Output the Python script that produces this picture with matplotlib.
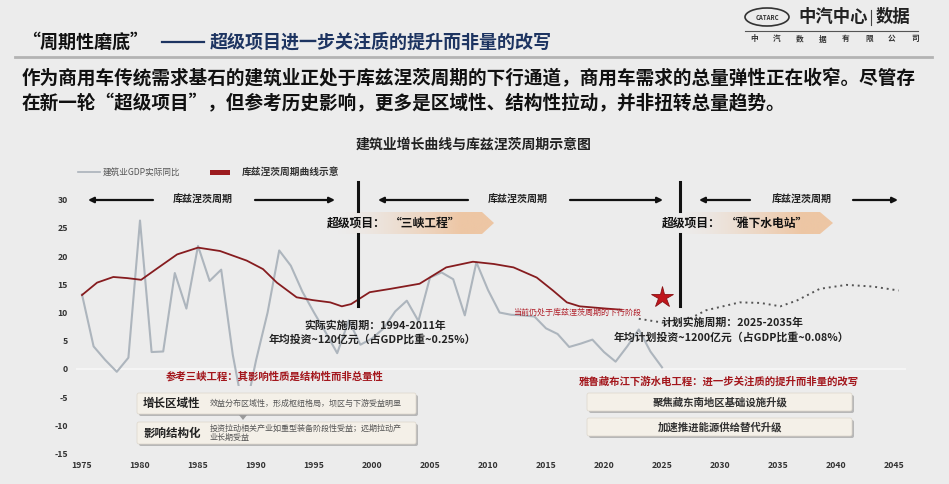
import matplotlib
matplotlib.use('Agg')
import matplotlib.pyplot as plt
import numpy as np
from matplotlib.patches import Polygon, FancyBboxPatch, Rectangle, Ellipse

plt.rcParams['font.family'] = ['Noto Sans CJK SC', 'DejaVu Sans']
plt.rcParams['axes.unicode_minus'] = False

# ---------------- data ----------------
gdp_years = list(range(1975, 2026))
gdp_vals = [13.2, 4.0, 1.6, -0.5, 2.0, 26.3, 3.0, 3.1, 17.0, 10.7,
            21.8, 15.6, 17.6, 2.5, -8.4, 1.5, 10.0, 21.0, 18.3, 13.7,
            10.0, 6.5, 2.8, 8.6, 4.3, 5.4, 7.2, 10.2, 12.1, 8.5,
            16.2, 17.1, 15.9, 9.5, 18.9, 14.0, 10.0, 9.6, 9.5, 9.3,
            7.2, 6.2, 3.9, 4.5, 5.2, 3.0, 1.3, 4.0, 7.0, 3.1, 0.3]

kuz_years = [1975, 1976.3, 1977.7, 1978.9, 1980.1, 1981.4, 1983.2, 1985, 1986.9,
             1989.2, 1990.6, 1991.8, 1993.5, 1994.9, 1996.4, 1997.4, 1998.2,
             1999.8, 2001.6, 2004.1, 2006.4, 2008.7, 2010.5, 2012.2, 2014.2,
             2015.6, 2016.8, 2017.9, 2020.2, 2021.5]
kuz_vals = [13.1, 15.3, 16.3, 16.1, 15.8, 17.7, 20.3, 21.5, 20.9,
            19.2, 17.7, 15.3, 12.7, 12.2, 11.8, 11.1, 11.5,
            13.6, 14.2, 15.1, 18.0, 19.0, 18.6, 18.0, 16.2,
            13.9, 11.8, 11.1, 10.7, 10.5]

fc_years = [2023.0, 2025.4, 2026.8, 2028.8, 2031.7, 2033.5, 2035.2, 2036.6,
            2038.6, 2040.9, 2043.2, 2045.4]
fc_vals = [8.9, 8.1, 8.3, 10.4, 11.8, 11.7, 11.1, 12.1, 14.2, 14.9, 14.6, 13.9]

now_year, now_val = 2025, 12.7

x_ticks = list(range(1975, 2046, 5))
y_ticks = list(range(-15, 31, 5))

BG = '#ececec'
W, H = 949, 484

fig = plt.figure(figsize=(W / 100, H / 100), dpi=100, facecolor=BG)

# main data axes: x 1974.5..2046 -> px 76.2..905.6 ; y -16..31 -> px 459.3..194.0
ax = fig.add_axes([76.2 / W, (H - 459.3) / H, (905.6 - 76.2) / W, (459.3 - 194.0) / H])
ax.set_facecolor(BG)
ax.set_xlim(1974.5, 2046)
ax.set_ylim(-16, 31)
for s in ax.spines.values():
    s.set_visible(False)
ax.set_xticks(x_ticks)
ax.set_yticks(y_ticks)
ax.tick_params(length=0)
ax.tick_params(axis='x', pad=1.5)
ax.tick_params(axis='y', pad=6)
for lab in ax.get_xticklabels() + ax.get_yticklabels():
    lab.set_fontsize(6.3)
    lab.set_fontweight('bold')
    lab.set_color('#333333')

ax.axhline(0, color='#f7f7f7', lw=1.3, zorder=0.5)
ax.plot(gdp_years, gdp_vals, color='#adb5bd', lw=1.5, zorder=2)
ax.plot(kuz_years, kuz_vals, color='#861c1f', lw=1.3, zorder=3)
ax.plot(fc_years, fc_vals, color='#555555', lw=1.4, ls=(0, (1, 2)), zorder=3)
ax.plot([now_year], [now_val], marker='*', ms=16, color='#c0161c', mec='#8a0f12',
        mew=0.6, zorder=6, clip_on=False)

# ---------------- overlay (pixel coords) ----------------
ov = fig.add_axes([0, 0, 1, 1], zorder=5)
ov.set_xlim(0, W)
ov.set_ylim(H, 0)
ov.axis('off')
ov.patch.set_visible(False)

def T(x, y, s, **kw):
    kw.setdefault('va', 'center')
    ov.text(x, y, s, **kw)

# header
T(22, 42, '“周期性磨底”', fontsize=13, weight='bold', color='#111111')
ov.plot([162, 204], [42, 42], color='#1d3461', lw=1.6)
T(210, 42, '超级项目进一步关注质的提升而非量的改写', fontsize=13, weight='bold', color='#1d3461')
ov.plot([15, 932], [57, 57], color='#b3b3b3', lw=2)

# logo
ov.add_patch(Ellipse((767, 17), 44, 18, fc='none', ec='#333333', lw=1.2))
T(767, 17, 'CATARC', ha='center', fontsize=4.3, weight='bold', color='#333333')
T(798, 17, '中汽中心', fontsize=12.5, weight='bold', color='#222222')
ov.plot([871.5, 871.5], [10, 25], color='#444444', lw=0.8)
T(876, 17, '数据', fontsize=12.5, weight='bold', color='#222222')
ov.plot([745, 918], [30.5, 30.5], color='#555555', lw=0.8)
for i, ch in enumerate('中汽数据有限公司'):
    T(754 + i * 23.0, 39, ch, ha='center', fontsize=5.5, weight='bold', color='#333333')

# paragraph
T(22, 79, '作为商用车传统需求基石的建筑业正处于库兹涅茨周期的下行通道，商用车需求的总量弹性正在收窄。尽管存',
  fontsize=13.4, weight='bold', color='#111111')
T(22, 104, '在新一轮“超级项目”，但参考历史影响，更多是区域性、结构性拉动，并非扭转总量趋势。',
  fontsize=13.4, weight='bold', color='#111111')

# chart title
T(474, 145, '建筑业增长曲线与库兹涅茨周期示意图', ha='center', fontsize=10, weight='bold', color='#222222')

# legend
ov.plot([78, 100], [172, 172], color='#aab2ba', lw=1.2)
T(103, 172, '建筑业GDP实际同比', fontsize=6.2, color='#555555')
ov.add_patch(Rectangle((210, 169.5), 20, 5, fc='#9c1b1f', ec='none'))
T(242, 172, '库兹涅茨周期曲线示意', fontsize=7, weight='bold', color='#333333')

# cycle arrows
def arrow(tail, head, y=200):
    ov.annotate('', xy=(head, y), xytext=(tail, y),
                arrowprops=dict(arrowstyle='-|>', color='#111111', lw=1.6,
                                mutation_scale=8, shrinkA=0, shrinkB=0))

for tail, head in [(153, 88), (255, 335), (468, 378), (570, 663), (750, 699), (853, 898)]:
    arrow(tail, head)
for cx in (203, 518, 802):
    T(cx, 200, '库兹涅茨周期', ha='center', fontsize=7.2, weight='bold', color='#222222')

# gradient bands
def band(x0, xr, xt, y0, y1, color):
    rgb = matplotlib.colors.to_rgb(color)
    n = 200
    grad = np.zeros((1, n, 4))
    grad[..., 0], grad[..., 1], grad[..., 2] = rgb
    a = np.linspace(0, 1, n)
    grad[..., 3] = np.clip(a * 1.25, 0, 1) ** 1.4 * 0.95
    im = ov.imshow(grad, extent=(x0, xt, y1, y0), aspect='auto', zorder=2,
                   interpolation='bilinear')
    poly = Polygon([(x0, y0), (xr, y0), (xt, (y0 + y1) / 2), (xr, y1), (x0, y1)],
                   closed=True, fc='none', ec='none')
    ov.add_patch(poly)
    im.set_clip_path(poly)

band(335, 482, 494, 212, 234, '#eec4a0')
band(676, 820, 833, 212, 234, '#eec4a0')
ov.set_xlim(0, W)
ov.set_ylim(H, 0)

T(327, 223, '超级项目：', fontsize=8.5, weight='bold', color='#111111', zorder=4)
T(390, 223, '“三峡工程”', fontsize=8.5, weight='bold', color='#111111', zorder=4)
T(662, 223, '超级项目：', fontsize=8.5, weight='bold', color='#111111', zorder=4)
T(726, 223, '“雅下水电站”', fontsize=8.5, weight='bold', color='#111111', zorder=4)

# vertical project markers
for xv in (358.5, 680):
    ov.plot([xv, xv], [182, 211], color='#111111', lw=2.2)
    ov.plot([xv, xv], [234, 306], color='#111111', lw=2.2)

# period annotations
T(375, 326, '实际实施周期：1994-2011年', ha='center', fontsize=7.8, weight='bold', color='#222222')
T(372, 339, '年均投资~120亿元（占GDP比重~0.25%）', ha='center', fontsize=7.8, weight='bold', color='#222222')
T(733, 323, '计划实施周期：2025-2035年', ha='center', fontsize=7.8, weight='bold', color='#222222')
T(731, 337, '年均计划投资~1200亿元（占GDP比重~0.08%）', ha='center', fontsize=7.8, weight='bold', color='#222222')
T(513, 312, '当前仍处于库兹涅茨周期的下行阶段', fontsize=5.8, color='#b0202a')

# left group
ov.add_patch(Rectangle((133, 386), 292, 62, fc=BG, ec='none', zorder=1))
T(275, 376, '参考三峡工程：其影响性质是结构性而非总量性', ha='center', fontsize=7.5,
  weight='bold', color='#a3161c')

def box(x0, y0, x1, y1):
    w, h = x1 - x0, y1 - y0
    ov.add_patch(FancyBboxPatch((x0 + 2, y0 + 2), w, h, boxstyle='round,pad=0,rounding_size=2',
                                fc='#8c8c8c', ec='none', alpha=0.55, zorder=1.5))
    ov.add_patch(FancyBboxPatch((x0, y0), w, h, boxstyle='round,pad=0,rounding_size=2',
                                fc='#f4f0e8', ec='#ddd6ca', lw=0.5, zorder=1.6))

box(137, 393, 416, 414)
box(137, 422, 416, 444)
ov.add_patch(Polygon([(239, 415), (247, 415), (243, 420)], closed=True, fc='#9a9a9a', ec='none', zorder=1.7))
T(143, 403.5, '增长区域性', fontsize=8.3, weight='bold', color='#222222')
T(210, 403.5, '效益分布区域性，形成枢纽格局，坝区与下游受益明显', fontsize=5.8, color='#555555')
T(143, 433, '影响结构化', fontsize=8.3, weight='bold', color='#222222')
T(210, 428, '投资拉动相关产业如重型装备阶段性受益；远期拉动产', fontsize=5.8, color='#555555')
T(210, 437.5, '业长期受益', fontsize=5.8, color='#555555')

# right group
T(719, 381, '雅鲁藏布江下游水电工程：进一步关注质的提升而非量的改写', ha='center', fontsize=7.5,
  weight='bold', color='#a3161c')
box(587, 393, 852, 411)
box(587, 418, 852, 436)
T(720, 402, '聚焦藏东南地区基础设施升级', ha='center', fontsize=7.5, weight='bold', color='#333333')
T(720, 427, '加速推进能源供给替代升级', ha='center', fontsize=7.5, weight='bold', color='#333333')

fig.savefig('out.png', dpi=100, facecolor=BG)
